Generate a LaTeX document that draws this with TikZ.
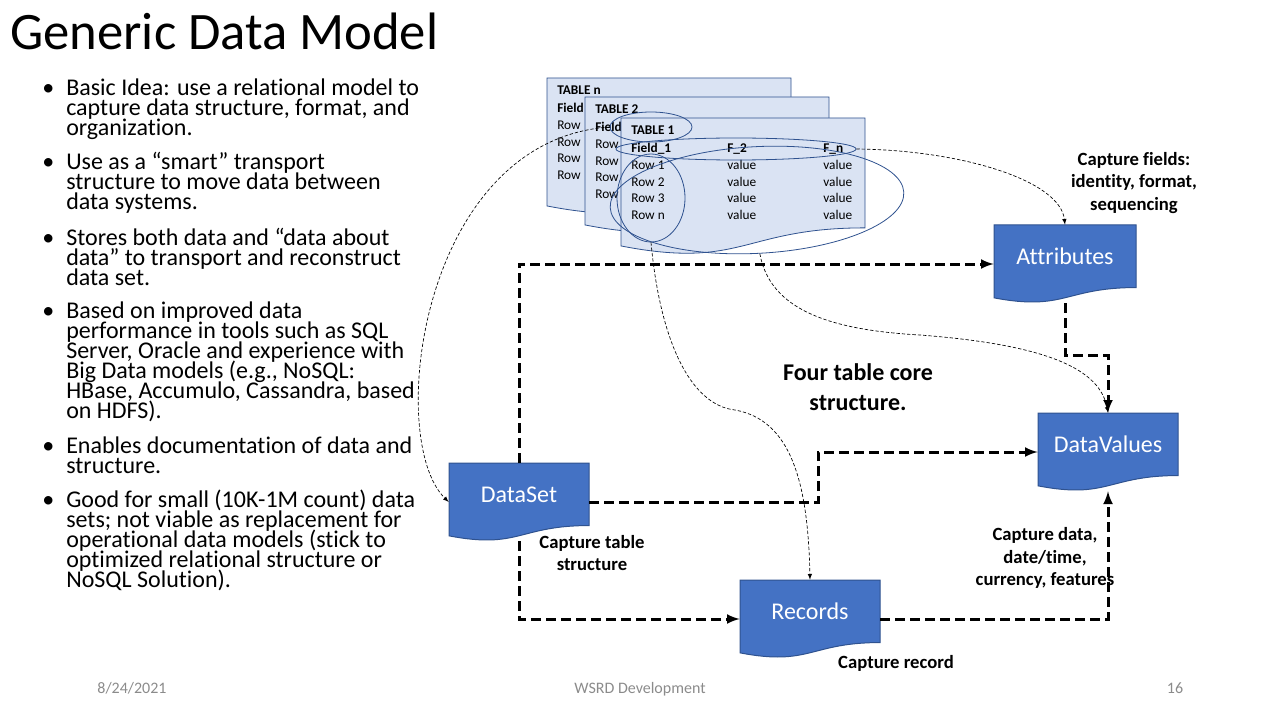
\documentclass[tikz,border=0pt]{standalone}
\usepackage{fontspec}
\setmainfont{Carlito}[Ligatures=NoCommon]
\usetikzlibrary{shapes.geometric}
\setlength{\lineskiplimit}{-20pt}

\definecolor{docblue}{HTML}{4472C4}
\definecolor{docedge}{HTML}{2F528F}
\definecolor{tablefill}{HTML}{DAE3F3}
\definecolor{footgray}{HTML}{8B8B8B}

% document shape: style, left, top, width, height
\newcommand{\docpath}[5]{%
  \path[#1] (#2,#3) -- ({#2+#4},#3) -- ({#2+#4},{#3+0.802*#5})
    .. controls ({#2+0.5*#4},{#3+0.802*#5}) and ({#2+0.5*#4},{#3+1.107*#5}) .. (#2,{#3+0.934*#5}) -- cycle;}

\begin{document}
\begin{tikzpicture}[x=0.75pt,y=-0.75pt,
    bluedoc/.style={fill=docblue,draw=docedge,line width=0.75pt},
    tabledoc/.style={fill=tablefill,draw=docedge,line width=0.6pt},
    docbox/.style={minimum width=105pt,minimum height=58.5pt,inner sep=0pt,text=white,
      font=\fontsize{18}{22}\selectfont,text height=12pt,text depth=12pt},
    ring/.style={ellipse,draw=docedge,line width=0.6pt,inner sep=0pt},
    cell/.style={anchor=base west,inner sep=0pt,font=\fontsize{10}{12}\selectfont},
    headcell/.style={cell,font=\fontsize{10}{12}\selectfont\bfseries},
    link/.style={black,line width=2.25pt,dash pattern=on 7.5pt off 3.75pt,-latex},
    trace/.style={black,line width=0.5pt,dash pattern=on 2.5pt off 1.5pt,-latex},
    note/.style={font=\fontsize{14}{17}\selectfont\bfseries,align=center,inner sep=0pt},
    point/.style={anchor=base west,inner sep=0pt,align=left,font=\fontsize{18}{15}\selectfont},
    foot/.style={text=footgray,font=\fontsize{12}{14}\selectfont,inner sep=0pt,anchor=base}]

	\useasboundingbox (0,0) rectangle (1280,720);

	\node[anchor=base west,inner sep=0pt,font=\fontsize{39.5}{48}\selectfont] (title) at (10,50) {Generic Data Model};

	% bullet list on the left (text nodes sit on the baseline of their last line)
	\foreach \n/\y in {1/96,2/170,3/245,4/318,5/453,6/507}{
		\node[point] (dot\n) at (42,\y) {•};
	}
	\node[point] (idea) at (66,136) {Basic Idea: use a relational model to\\capture data structure, format, and\\organization.};
	\node[point] (smart) at (66,210) {Use as a “smart” transport\\structure to move data between\\data systems.};
	\node[point] (stores) at (66,285) {Stores both data and “data about\\data” to transport and reconstruct\\data set.};
	\node[point] (based) at (66,418) {Based on improved data\\performance in tools such as SQL\\Server, Oracle and experience with\\Big Data models (e.g., NoSQL:\\HBase, Accumulo, Cassandra, based\\on HDFS).};
	\node[point] (enables) at (66,473) {Enables documentation of data and\\structure.};
	\node[point] (good) at (66,587) {Good for small (10K-1M count) data\\sets; not viable as replacement for\\operational data models (stick to\\optimized relational structure or\\NoSQL Solution).};

	% stacked tables, back to front: only the first column shows on the back ones
	\foreach \tx/\ty/\tname in {547/78/n,585/97/2}{
		\docpath{tabledoc}{\tx}{\ty}{244}{137}
		\node[headcell] (head\tname) at ({\tx+10},{\ty+17}) {TABLE \tname};
		\node[headcell] (fa\tname) at ({\tx+10},{\ty+35}) {Field};
		\foreach \r in {0,1,2,3}{
			\node[cell] (row\tname\r) at ({\tx+10},{\ty+52+16.4*\r}) {Row};
		}
	}
	\docpath{tabledoc}{621}{118}{244}{137}
	\node[headcell] (head1) at (631,135) {TABLE 1};
	\node[headcell] (fa1) at (631,153) {Field\_1};
	\node[headcell] (fb1) at (727,153) {F\_2};
	\node[headcell] (fc1) at (823,153) {F\_n};
	\foreach \r/\rn in {0/1,1/2,2/3,3/n}{
		\node[cell] (row1\r) at (631,{170+16.4*\r}) {Row \rn};
		\node[cell] (va1\r) at (727,{170+16.4*\r}) {value};
		\node[cell] (vb1\r) at (823,{170+16.4*\r}) {value};
	}

	% rings round the parts of TABLE 1
	\node[ring,minimum width=61.5pt,minimum height=22.5pt] (headring) at (651,127) {};
	\node[ring,minimum width=180pt,minimum height=16.5pt] (fieldring) at (736,149) {};
	\node[ring,minimum width=51pt,minimum height=66pt] (colring) at (651,198) {};
	\node[ring,minimum width=220.5pt,minimum height=80pt,rotate=3] (rowring) at (757,200) {};

	% the four core tables
	\docpath{bluedoc}{449}{463}{140}{78}
	\node[docbox] (dataset) at (519,502) {DataSet};
	\docpath{bluedoc}{994}{225}{142}{78}
	\node[docbox,minimum width=106.5pt] (attributes) at (1065,264) {Attributes};
	\docpath{bluedoc}{1038}{413}{140}{78}
	\node[docbox] (datavalues) at (1108,452) {DataValues};
	\docpath{bluedoc}{740}{580}{140}{78}
	\node[docbox] (records) at (810,619) {Records};

	\node[note] (fieldnote) at (1134,183) {Capture fields:\\identity, format,\\sequencing};
	\node[note] (tablenote) at (592,553) {Capture table\\structure};
	\node[note] (datanote) at (1045,558) {Capture data,\\date/time,\\currency, features};
	\node[note] (recordnote) at (896,663) {Capture record};
	\node[note,font=\fontsize{18}{22.5}\selectfont\bfseries] (corenote) at (858,387) {Four table core\\structure.};

	\draw[link] (dataset.north) |- (attributes.west);
	\draw[link] (dataset.east) -- ++(229,0) |- (datavalues.west);
	\draw[link] (dataset.south) |- (records.west);
	\draw[link] (records.east) -| (datavalues.south);
	\draw[link] (attributes.south) -- ++(0,52) -| (datavalues.north);

	\draw[trace] (headring.west) .. controls (420,140) and (385,440) .. (dataset.west);
	\draw[trace] (fieldring.east) .. controls (960,150) and (1060,180) .. (attributes.north);
	\draw[trace] (colring.south) .. controls (660,340) and (690,405) .. (735,410) .. controls (790,420) and (808,480) .. (records.north);
	\draw[trace] (rowring.south) .. controls (770,310) and (830,330) .. (920,335) .. controls (1050,345) and (1100,370) .. (datavalues.north);

	\node[foot] (date) at (132,693) {8/24/2021};
	\node[foot] (org) at (640,693) {WSRD Development};
	\node[foot] (page) at (1175,693) {16};
\end{tikzpicture}
\end{document}
